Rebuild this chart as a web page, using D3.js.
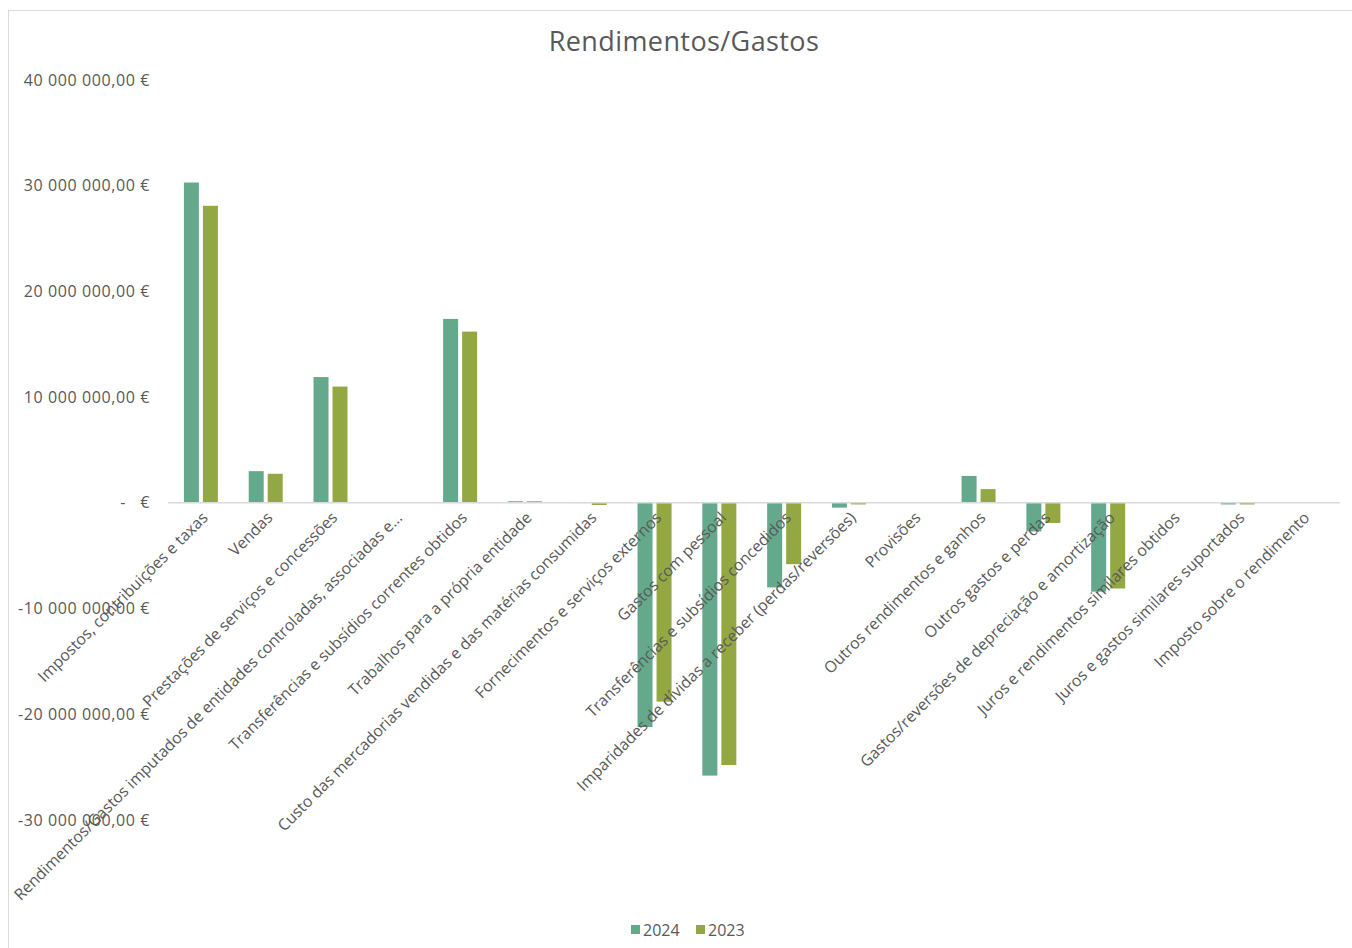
<!DOCTYPE html>
<html><head><meta charset="utf-8">
<script src="https://cdn.jsdelivr.net/npm/d3@7"></script>
<style>html,body{margin:0;padding:0;background:#fff;}svg{display:block;font-family:"Open Sans",sans-serif;}</style>
</head><body>
<svg id="chart" width="1352" height="948"></svg>
<script>
const categories = [
  "Impostos, contribuições e taxas",
  "Vendas",
  "Prestações de serviços e concessões",
  "Rendimentos/Gastos imputados de entidades controladas, associadas e…",
  "Transferências e subsídios correntes obtidos",
  "Trabalhos para a própria entidade",
  "Custo das mercadorias vendidas e das matérias consumidas",
  "Fornecimentos e serviços externos",
  "Gastos com pessoal",
  "Transferências e subsídios concedidos",
  "Imparidades de dívidas a receber (perdas/reversões)",
  "Provisões",
  "Outros rendimentos e ganhos",
  "Outros gastos e perdas",
  "Gastos/reversões de depreciação e amortização",
  "Juros e rendimentos similares obtidos",
  "Juros e gastos similares suportados",
  "Imposto sobre o rendimento"
];
const values2024 = [30300000, 3000000, 11900000, 0, 17400000, 150000, -20000, -21200000, -25800000, -8000000, -450000, 0, 2550000, -2700000, -8400000, 0, -150000, 0];
const values2023 = [28100000, 2750000, 11000000, 0, 16200000, 150000, -200000, -18800000, -24800000, -5800000, -150000, 0, 1300000, -1900000, -8100000, 0, -150000, 0];
const seriesNames = ["2024", "2023"];
const yTicks = [40000000, 30000000, 20000000, 10000000, 0, -10000000, -20000000, -30000000];
const title = "Rendimentos/Gastos";

const colors = {"2024": "#64A98B", "2023": "#93A843"};
const textColor = "#595959";
const svg = d3.select("#chart");

// chart border
svg.append("rect").attr("x", 8.5).attr("y", 10.5).attr("width", 1400).attr("height", 1000)
  .attr("fill", "none").attr("stroke", "#d9d9d9").attr("stroke-width", 1);

svg.append("text").attr("x", 684).attr("y", 51).attr("text-anchor", "middle")
  .attr("font-size", 27).attr("letter-spacing", 0.4).attr("fill", textColor).text(title);

const x = d3.scaleBand().domain(categories).range([168.5, 1335]);
const y = d3.scaleLinear().domain([-30000000, 40000000]).range([820, 80]);
const barW = 15, gap = 4;
const xs = d3.scaleOrdinal().domain(seriesNames).range([-(barW + gap / 2), gap / 2]);

const fmt = v => {
  if (v === 0) return null;
  const s = d3.format(",.2f")(Math.abs(v)).replace(/,/g, " ").replace(".", ",");
  return (v < 0 ? "-" : "") + s + " €";
};

const yAxis = svg.append("g").attr("font-size", 16).attr("letter-spacing", 0.6).attr("fill", textColor);
yTicks.forEach(t => {
  if (t === 0) {
    yAxis.append("text").attr("x", 126).attr("y", y(t)).attr("dy", "0.35em").attr("text-anchor", "end").text("-");
    yAxis.append("text").attr("x", 150).attr("y", y(t)).attr("dy", "0.35em").attr("text-anchor", "end").text("€");
  } else {
    yAxis.append("text").attr("x", 150).attr("y", y(t)).attr("dy", "0.35em").attr("text-anchor", "end").text(fmt(t));
  }
});

const data = categories.map((c, i) => ({c, v: {"2024": values2024[i], "2023": values2023[i]}}));
const g = svg.append("g");
seriesNames.forEach(s => {
  g.selectAll(".b" + s).data(data).enter().append("rect")
    .attr("x", d => x(d.c) + x.bandwidth() / 2 + xs(s))
    .attr("width", barW)
    .attr("y", d => y(Math.max(0, d.v[s])))
    .attr("height", d => Math.abs(y(d.v[s]) - y(0)))
    .attr("fill", colors[s]);
});

svg.append("line").attr("x1", 168).attr("x2", 1340).attr("y1", y(0)).attr("y2", y(0))
  .attr("stroke", "#d9d9d9").attr("stroke-width", 1.5);

const xl = svg.append("g").attr("font-size", 15.8).attr("fill", textColor);
categories.forEach(c => {
  const cx = x(c) + x.bandwidth() / 2;
  xl.append("text").attr("transform", `translate(${cx + 4},${y(0) + 12}) rotate(-45)`)
    .attr("text-anchor", "end").attr("dy", "0.35em").text(c);
});

const leg = svg.append("g").attr("font-size", 16).attr("fill", textColor);
[["2024", 631], ["2023", 696]].forEach(([s, lx]) => {
  leg.append("rect").attr("x", lx).attr("y", 925).attr("width", 9).attr("height", 9).attr("fill", colors[s]);
  leg.append("text").attr("x", lx + 12).attr("y", 930).attr("dy", "0.35em").text(s);
});
</script>
</body></html>
